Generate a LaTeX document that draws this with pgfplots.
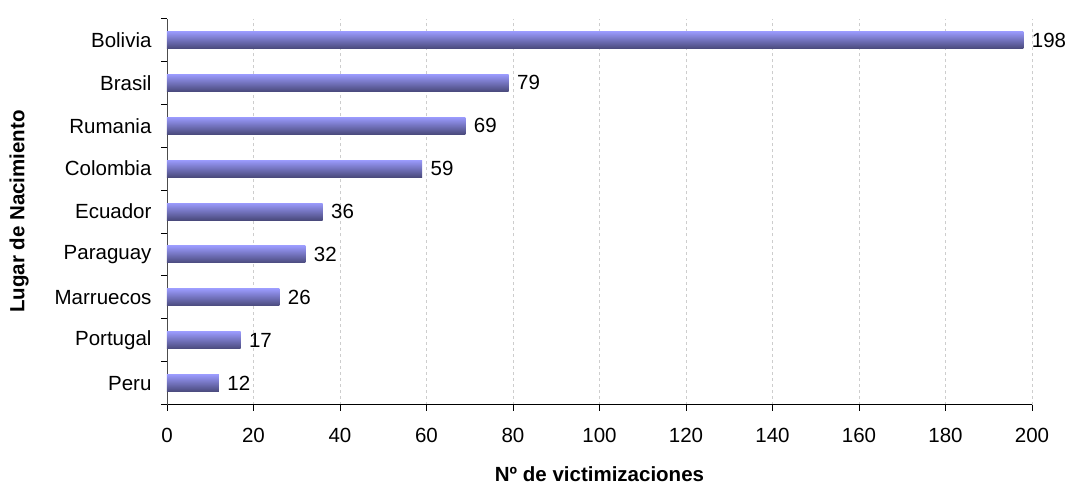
\documentclass[border=0pt]{standalone}
\usepackage{pgfplots}
\pgfplotsset{compat=1.18}
\usepackage{fontspec}
\setmainfont{Liberation Sans}
\definecolor{bartop}{RGB}{154,154,252}
\definecolor{barbot}{RGB}{74,74,124}
\definecolor{gridc}{RGB}{205,205,205}
\begin{document}
\begin{tikzpicture}[x=1pt,y=1pt]
\useasboundingbox (0,0) rectangle (1072,488);
\begin{axis}[
  at={(167pt,83.5pt)}, anchor=south west,
  scale only axis, width=865pt, height=386pt,
  xbar, bar width=17pt, bar shift=0pt,
  xmin=0, xmax=200, ymin=-0.5, ymax=8.5,
  axis x line*=bottom, axis y line*=left,
  axis line style={-, draw=black, line width=0.8pt},
  y axis line style={draw=black!70},
  xtick={0,20,...,200},
  minor xtick={0,20,...,200},
  ytick={0,...,8},
  minor ytick={-0.5,0.5,...,8.5},
  yticklabels={Peru,Portugal,Marruecos,Paraguay,Ecuador,Colombia,Rumania,Brasil,Bolivia},
  tick align=outside,
  major tick length=0pt,
  minor tick length=6pt,
  tick style={draw=black, line width=0.8pt},
  xmajorgrids, grid style={gridc, dashed, line width=0.8pt},
  every tick label/.style={font=\fontsize{20.5}{24}\selectfont},
  /pgf/number format/assume math mode=true,
  xticklabel style={yshift=-20pt},
  yticklabel style={xshift=-12pt},
  xlabel={\textbf{Nº de victimizaciones}},
  ylabel={\textbf{Lugar de Nacimiento}},
  label style={font=\fontsize{20.5}{24}\selectfont},
  xlabel style={at={(axis description cs:0.5,0)}, anchor=center, yshift=-70pt},
  ylabel style={at={(axis description cs:0,0.5)}, anchor=center, rotate=0, yshift=148pt},
  nodes near coords,
  nodes near coords style={font=\fontsize{20.5}{24}\selectfont, anchor=west, xshift=5pt, text=black},
  clip=false,
]
\addplot[draw=none, top color=bartop, bottom color=barbot] coordinates {(198,8)};
\addplot[draw=none, top color=bartop, bottom color=barbot] coordinates {(79,7)};
\addplot[draw=none, top color=bartop, bottom color=barbot] coordinates {(69,6)};
\addplot[draw=none, top color=bartop, bottom color=barbot] coordinates {(59,5)};
\addplot[draw=none, top color=bartop, bottom color=barbot] coordinates {(36,4)};
\addplot[draw=none, top color=bartop, bottom color=barbot] coordinates {(32,3)};
\addplot[draw=none, top color=bartop, bottom color=barbot] coordinates {(26,2)};
\addplot[draw=none, top color=bartop, bottom color=barbot] coordinates {(17,1)};
\addplot[draw=none, top color=bartop, bottom color=barbot] coordinates {(12,0)};
\end{axis}
\end{tikzpicture}
\end{document}
